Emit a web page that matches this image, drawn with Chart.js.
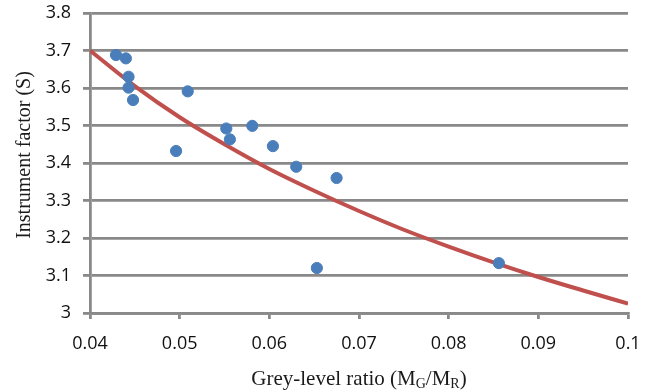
<!DOCTYPE html>
<html>
<head>
<meta charset="utf-8">
<script src="https://cdn.jsdelivr.net/npm/chart.js@4.4.0/dist/chart.umd.min.js"></script>
<style>
  body { margin: 0; background: #fff; }
  canvas { display: block; }
</style>
</head>
<body>
<canvas id="factorChart" width="657" height="392"></canvas>
<script>
// measured points: grey-level ratio vs instrument factor
var ratioValues = [0.0429, 0.0440, 0.0443, 0.0443, 0.0448, 0.0509, 0.0496, 0.0552,
                   0.0556, 0.0581, 0.0604, 0.0630, 0.0675, 0.0653, 0.0856];
var factorValues = [3.688, 3.679, 3.630, 3.601, 3.568, 3.591, 3.432, 3.492,
                    3.463, 3.499, 3.445, 3.390, 3.360, 3.120, 3.133];

// trend curve
var trendX = [0.04, 0.045, 0.05, 0.055, 0.06, 0.065, 0.07, 0.075, 0.08, 0.085, 0.09, 0.095, 0.1];
var trendY = [3.700, 3.605, 3.522, 3.450, 3.384, 3.326, 3.272, 3.222, 3.177, 3.135, 3.096, 3.060, 3.025];

var xTicks = [0.04, 0.05, 0.06, 0.07, 0.08, 0.09, 0.1];
var yTicks = [3, 3.1, 3.2, 3.3, 3.4, 3.5, 3.6, 3.7, 3.8];

var xTitle = ['Grey-level ratio (M', 'G', '/M', 'R', ')'];
var yTitle = 'Instrument factor (S)';

var gridColor = '#898989';

var points = ratioValues.map(function (x, i) { return { x: x, y: factorValues[i] }; });
var trend = trendX.map(function (x, i) { return { x: x, y: trendY[i] }; });

// axis titles drawn by hand so the subscripts come out right
var titlesPlugin = {
  id: 'axisTitles',
  afterDraw: function (chart) {
    var ctx = chart.ctx;
    var area = chart.chartArea;
    ctx.save();
    ctx.fillStyle = '#1a1a1a';
    ctx.textBaseline = 'alphabetic';

    var big = '21px "Liberation Serif"';
    var small = '14px "Liberation Serif"';
    var widths = xTitle.map(function (t, i) {
      ctx.font = (i % 2 === 1) ? small : big;
      return ctx.measureText(t).width;
    });
    var total = widths.reduce(function (a, b) { return a + b; }, 0);
    var x = (area.left + area.right) / 2 - total / 2;
    var base = 385;
    xTitle.forEach(function (t, i) {
      var sub = i % 2 === 1;
      ctx.font = sub ? small : big;
      ctx.fillText(t, x, sub ? base + 3 : base);
      x += widths[i];
    });

    ctx.translate(25, 155);
    ctx.rotate(-Math.PI / 2);
    ctx.font = '20px "Liberation Serif"';
    ctx.textAlign = 'center';
    ctx.textBaseline = 'middle';
    ctx.fillText(yTitle, 0, 0);
    ctx.restore();
  }
};

function noPad(scale) {
  scale.paddingTop = 0;
  scale.paddingBottom = 0;
  scale.paddingLeft = 0;
  scale.paddingRight = 0;
}

var ctx = document.getElementById('factorChart');
var chart = new Chart(ctx, {
  type: 'scatter',
  data: {
    datasets: [{
      label: 'Measured',
      data: points,
      backgroundColor: '#4a7ebb',
      borderColor: '#4a7ebb',
      pointRadius: 5.6,
      pointHoverRadius: 5.6
    }, {
      type: 'line',
      label: 'Trend',
      data: trend,
      borderColor: '#c0504d',
      borderWidth: 4,
      pointRadius: 0,
      fill: false,
      cubicInterpolationMode: 'monotone'
    }]
  },
  options: {
    responsive: false,
    animation: false,
    layout: { padding: { left: 0, right: 29, top: 13, bottom: 0 } },
    plugins: {
      legend: { display: false },
      tooltip: { enabled: false }
    },
    scales: {
      x: {
        type: 'linear',
        min: 0.04,
        max: 0.1,
        afterBuildTicks: function (scale) {
          scale.ticks = xTicks.map(function (v) { return { value: v }; });
        },
        afterFit: function (scale) { scale.height = 79; noPad(scale); },
        grid: {
          drawOnChartArea: false,
          color: gridColor,
          lineWidth: 2.8,
          tickLength: 6
        },
        border: { color: gridColor, width: 2.8 },
        ticks: {
          color: '#111',
          padding: 14,
          font: { family: '"Open Sans"', size: 18 },
          callback: function (v) { return String(+v.toFixed(2)); }
        }
      },
      y: {
        min: 3,
        max: 3.8,
        afterBuildTicks: function (scale) {
          scale.ticks = yTicks.map(function (v) { return { value: v }; });
        },
        afterFit: function (scale) { scale.width = 90; noPad(scale); },
        grid: {
          color: gridColor,
          lineWidth: 2.8,
          tickLength: 7
        },
        border: { color: gridColor, width: 2.8 },
        ticks: {
          color: '#111',
          padding: 12,
          font: { family: '"Open Sans"', size: 18 },
          callback: function (v) { return String(+v.toFixed(1)); }
        }
      }
    }
  },
  plugins: [titlesPlugin]
});
</script>
</body>
</html>
